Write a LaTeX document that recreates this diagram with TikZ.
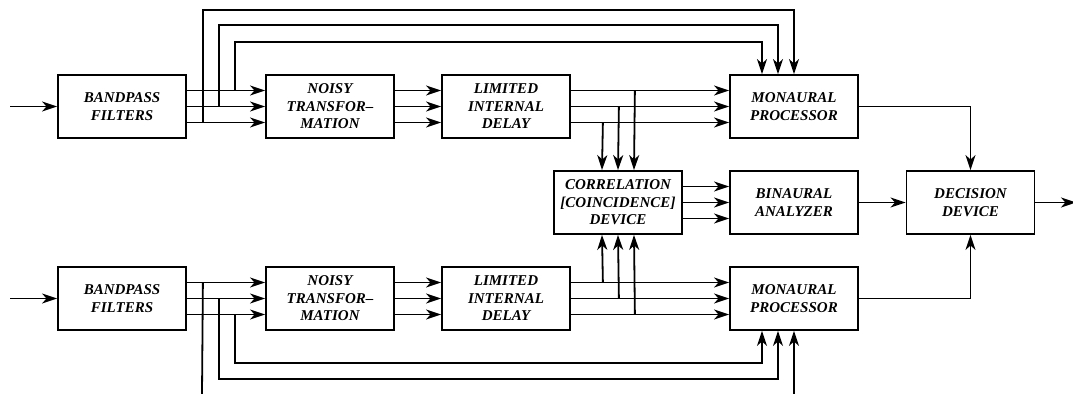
\documentclass[tikz,border=0pt]{standalone}
\usepackage{fontspec}
\setmainfont{Liberation Serif}
\usetikzlibrary{arrows.meta}
\begin{document}
\begin{tikzpicture}[x=0.5pt,y=-0.5pt,line width=0.9pt,
  >={Stealth[length=7.5pt,width=5pt,inset=2.2pt]},
  blk/.style={draw,minimum width=64pt,minimum height=31.5pt,inner sep=0pt,
    align=center,font=\fontsize{7.5}{8.8}\selectfont\bfseries\itshape}]
\useasboundingbox (0,0) rectangle (1073,394);

% upper channel
\node[blk] (bp1) at (122,106.5) {BANDPASS\\FILTERS};
\node[blk] (nt1) at (330,106.5) {NOISY\\TRANSFOR--\\MATION};
\node[blk] (ld1) at (506,106.5) {LIMITED\\INTERNAL\\DELAY};
\node[blk] (mp1) at (794,106.5) {MONAURAL\\PROCESSOR};

% binaural section and decision
\node[blk] (corr) at (618,202.5) {CORRELATION\\{[COINCIDENCE]}\\DEVICE};
\node[blk] (bin) at (794,202.5) {BINAURAL\\ANALYZER};
\node[blk] (dec) at (970.5,202.5) {DECISION\\DEVICE};

% lower channel
\node[blk] (bp2) at (122,298.5) {BANDPASS\\FILTERS};
\node[blk] (nt2) at (330,298.5) {NOISY\\TRANSFOR--\\MATION};
\node[blk] (ld2) at (506,298.5) {LIMITED\\INTERNAL\\DELAY};
\node[blk] (mp2) at (794,298.5) {MONAURAL\\PROCESSOR};

% free ends
\coordinate (in1) at (10,106.5);
\coordinate (in2) at (10,298.5);
\coordinate (out) at (1076,202.5);
\coordinate (botL) at (202,394);
\coordinate (botR) at (794,394);

% inputs and output
\draw[->] (in1) -- (bp1.west);
\draw[->] (in2) -- (bp2.west);
\draw[->] (dec.east) -- (out);

% three parallel lines between stages
\foreach \d in {-8,0,8}{
  \draw[->] ([yshift=\d pt]bp1.east) -- ([yshift=\d pt]nt1.west);
  \draw[->] ([yshift=\d pt]nt1.east) -- ([yshift=\d pt]ld1.west);
  \draw[->] ([yshift=\d pt]ld1.east) -- ([yshift=\d pt]mp1.west);
  \draw[->] ([yshift=\d pt]bp2.east) -- ([yshift=\d pt]nt2.west);
  \draw[->] ([yshift=\d pt]nt2.east) -- ([yshift=\d pt]ld2.west);
  \draw[->] ([yshift=\d pt]ld2.east) -- ([yshift=\d pt]mp2.west);
  \draw[->] ([yshift=\d pt]corr.east) -- ([yshift=\d pt]bin.west);
}

% delay outputs into the correlation device
\draw[->] ([xshift=16pt,yshift=-8pt]ld1.east) -- ([xshift=-8pt]corr.north);
\draw[->] ([xshift=24pt]ld1.east) -- (corr.north);
\draw[->] ([xshift=32pt,yshift=8pt]ld1.east) -- ([xshift=8pt]corr.north);
\draw[->] ([xshift=16pt,yshift=8pt]ld2.east) -- ([xshift=-8pt]corr.south);
\draw[->] ([xshift=24pt]ld2.east) -- (corr.south);
\draw[->] ([xshift=32pt,yshift=-8pt]ld2.east) -- ([xshift=8pt]corr.south);

% filter outputs routed over the top to the upper monaural processor
\draw[->] ([xshift=8pt,yshift=-8pt]bp1.east) |- ([yshift=32pt]mp1.north) -- (mp1.north);
\draw[->] ([xshift=16pt]bp1.east) |- ([xshift=-8pt,yshift=24.5pt]mp1.north) -- ([xshift=-8pt]mp1.north);
\draw[->] ([xshift=24pt,yshift=8pt]bp1.east) |- ([xshift=-16pt,yshift=16pt]mp1.north) -- ([xshift=-16pt]mp1.north);

% filter outputs routed underneath to the lower monaural processor
\draw ([xshift=8pt,yshift=8pt]bp2.east) -- (botL);
\draw[->] (botR) -- (mp2.south);
\draw[->] ([xshift=16pt]bp2.east) |- ([xshift=-8pt,yshift=-24pt]mp2.south) -- ([xshift=-8pt]mp2.south);
\draw[->] ([xshift=24pt,yshift=-8pt]bp2.east) |- ([xshift=-16pt,yshift=-16pt]mp2.south) -- ([xshift=-16pt]mp2.south);

% to the decision device
\draw[->] (mp1.east) -| (dec.north);
\draw[->] (mp2.east) -| (dec.south);
\draw[->] (bin.east) -- (dec.west);
\end{tikzpicture}
\end{document}
